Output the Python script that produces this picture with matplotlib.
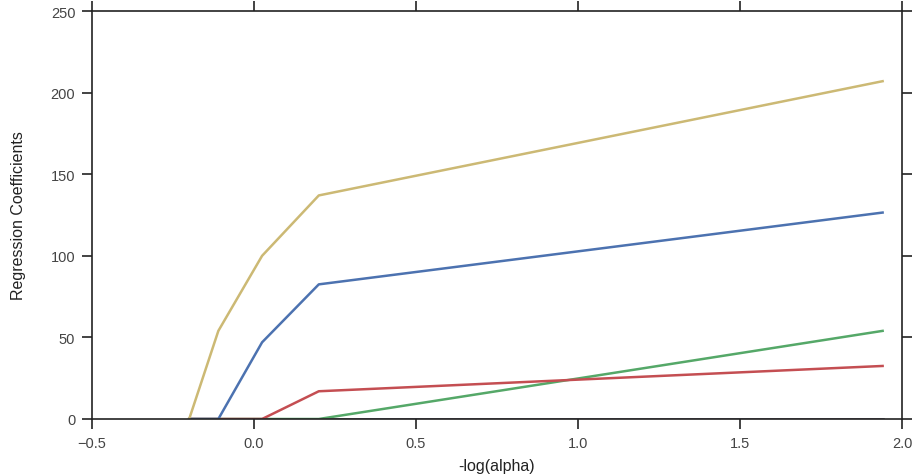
import matplotlib
matplotlib.use("Agg")
from matplotlib import pyplot as plt

plt.rcParams['font.family'] = ['Liberation Sans', 'DejaVu Sans']

# -log(alpha) at each knot of the path
neg_log_alpha = [-0.2, -0.11, 0.025, 0.2, 1.94]

# coefficients at each knot
coef_yellow = [0, 54, 100, 137, 207]
coef_blue = [0, 0, 47, 82.5, 126.5]
coef_red = [0, 0, 0, 17, 32.5]
coef_green = [0, 0, 0, 0, 54]
coef_purple = [0, 0, 0, 0, 0]

fig = plt.figure(figsize=(9.17, 4.77), dpi=100)
ax = fig.add_axes([0.1003, 0.1195, 0.8834, 0.8553])

lw = 1.8
ax.plot(neg_log_alpha, coef_purple, color="#4a4560", lw=lw)
ax.plot(neg_log_alpha, coef_green, color="#55A868", lw=lw)
ax.plot(neg_log_alpha, coef_red, color="#C44E52", lw=lw)
ax.plot(neg_log_alpha, coef_blue, color="#4C72B0", lw=lw)
ax.plot(neg_log_alpha, coef_yellow, color="#CCB974", lw=lw)

ax.set_xlim(-0.5, 2.0)
ax.set_ylim(0, 250)
ax.set_xticks([-0.5, 0.0, 0.5, 1.0, 1.5, 2.0])
ax.set_yticks([0, 50, 100, 150, 200, 250])
ax.set_xticklabels(["\u22120.5", "0.0", "0.5", "1.0", "1.5", "2.0"])

for s in ax.spines.values():
    s.set_color("#222222")
    s.set_linewidth(1.2)
ax.tick_params(direction="out", length=7, width=1.2, color="#222222",
               labelsize=10.5, labelcolor="#444444", pad=5,
               top=True, right=True)
ax.set_xlabel("-log(alpha)", fontsize=11.5, color="#222222", labelpad=6)
ax.set_ylabel("Regression Coefficients", fontsize=11.5, color="#222222",
              labelpad=18)

fig.savefig("out.png", dpi=100)
